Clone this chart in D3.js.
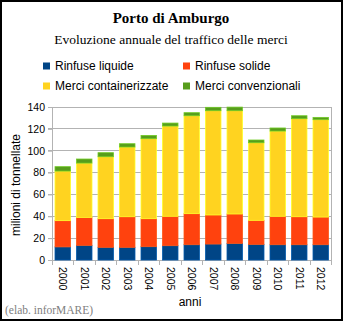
<!DOCTYPE html>
<html><head><meta charset="utf-8">
<script src="https://cdn.jsdelivr.net/npm/d3@7"></script>
<style>body{margin:0;background:#fff}svg{display:block}</style>
</head><body>
<script>
const years = ["2000","2001","2002","2003","2004","2005","2006","2007","2008","2009","2010","2011","2012"];
const rinfuseLiquide = [12.0,13.4,11.6,11.6,12.2,13.1,14.0,14.6,15.2,14.3,14.0,14.0,14.0];
const rinfuseSolide = [24.0,25.6,26.2,28.0,25.6,26.9,28.4,26.6,26.9,22.0,26.0,25.6,25.3];
const merciContainer = [45.4,49.7,56.7,63.8,73.2,82.6,89.6,95.4,94.5,71.0,78.0,89.7,89.1];
const merciConvenz = [4.0,3.7,3.7,3.0,3.0,2.7,2.8,3.1,3.3,2.5,2.8,2.7,2.1];
const seriesNames = ["Rinfuse liquide","Rinfuse solide","Merci containerizzate","Merci convenzionali"];
const colors = ["#004586","#ff420e","#ffd320","#579d1c"];
const yTicks = [0,20,40,60,80,100,120,140];

const W=343,H=322;
const svg=d3.select("body").append("svg").attr("width",W).attr("height",H);
svg.append("rect").attr("x",1).attr("y",1).attr("width",341).attr("height",319)
  .attr("fill","#fff").attr("stroke","#000").attr("stroke-width",2);

const x=d3.scaleBand().domain(years).range([52,331.5]).paddingInner(0.28).paddingOuter(0.14);
const y=d3.scaleLinear().domain([0,140]).range([260,107]);

svg.append("text").attr("x",171).attr("y",23).attr("text-anchor","middle")
  .attr("font-family","Liberation Serif, Times New Roman, serif").attr("font-weight","bold").attr("font-size",15).text("Porto di Amburgo");
svg.append("text").attr("x",171).attr("y",44).attr("text-anchor","middle")
  .attr("font-family","Liberation Serif, Times New Roman, serif").attr("font-size",13.5).text("Evoluzione annuale del traffico delle merci");

// legend
const legPos=[[43,66],[183,66],[43,86],[183,86]];
seriesNames.forEach((n,i)=>{
  const g=svg.append("g");
  g.append("rect").attr("x",legPos[i][0]).attr("y",legPos[i][1]-3.5).attr("width",7).attr("height",7).attr("fill",colors[i]);
  g.append("text").attr("x",legPos[i][0]+12).attr("y",legPos[i][1]+4.3)
    .attr("font-family","Liberation Sans, Arial, sans-serif").attr("font-size",12).text(n);
});

// gridlines
svg.append("g").selectAll("line").data(yTicks).join("line")
  .attr("x1",48).attr("x2",332).attr("y1",d=>y(d)).attr("y2",d=>y(d))
  .attr("stroke","#b3b3b3").attr("stroke-width",1).attr("shape-rendering","crispEdges");

// y axis
const yAx=svg.append("g").attr("transform","translate(52,0)")
  .call(d3.axisLeft(y).tickValues(yTicks).tickSize(4).tickSizeOuter(0).tickPadding(3));
yAx.select(".domain").remove();
yAx.selectAll("line").attr("stroke","#b3b3b3");
yAx.selectAll("text").attr("font-family","Liberation Sans, Arial, sans-serif").attr("font-size",10.5).attr("fill","#000");
svg.append("line").attr("x1",52).attr("x2",52).attr("y1",107).attr("y2",265).attr("stroke","#b3b3b3").attr("shape-rendering","crispEdges");
svg.append("line").attr("x1",331.5).attr("x2",331.5).attr("y1",107).attr("y2",265).attr("stroke","#b3b3b3").attr("shape-rendering","crispEdges");

// x ticks at band boundaries
const step=x.step();
const bounds=years.slice(1).map((d,i)=>x(d)-x.paddingInner()*step/2);
svg.append("g").selectAll("line").data(bounds).join("line")
  .attr("x1",d=>d).attr("x2",d=>d).attr("y1",260).attr("y2",265)
  .attr("stroke","#b3b3b3").attr("shape-rendering","crispEdges");

// bars
const data=years.map((yr,i)=>({year:yr,s0:rinfuseLiquide[i],s1:rinfuseSolide[i],s2:merciContainer[i],s3:merciConvenz[i]}));
const stack=d3.stack().keys(["s0","s1","s2","s3"])(data);
stack.forEach((layer,k)=>{
  svg.append("g").selectAll("rect").data(layer).join("rect")
    .attr("x",d=>x(d.data.year)).attr("width",x.bandwidth())
    .attr("y",d=>y(d[1])).attr("height",d=>y(d[0])-y(d[1]))
    .attr("fill",colors[k]).attr("stroke",d3.color(colors[k]).brighter(0.7)).attr("stroke-width",0.8);
});

// x labels rotated
svg.append("g").selectAll("text").data(years).join("text")
  .attr("transform",d=>`translate(${x(d)+x.bandwidth()/2-3.5},267) rotate(90)`)
  .attr("font-family","Liberation Sans, Arial, sans-serif").attr("font-size",10.5).text(d=>d);

svg.append("text").attr("transform","translate(20,185) rotate(-90)").attr("text-anchor","middle")
  .attr("font-family","Liberation Sans, Arial, sans-serif").attr("font-size",12).text("milioni di tonnellate");
svg.append("text").attr("x",190).attr("y",306).attr("text-anchor","middle")
  .attr("font-family","Liberation Sans, Arial, sans-serif").attr("font-size",12).text("anni");
svg.append("text").attr("x",5).attr("y",314)
  .attr("font-family","Liberation Serif, Times New Roman, serif").attr("font-size",11.5).attr("fill","#808080").text("(elab. inforMARE)");
</script>
</body></html>
